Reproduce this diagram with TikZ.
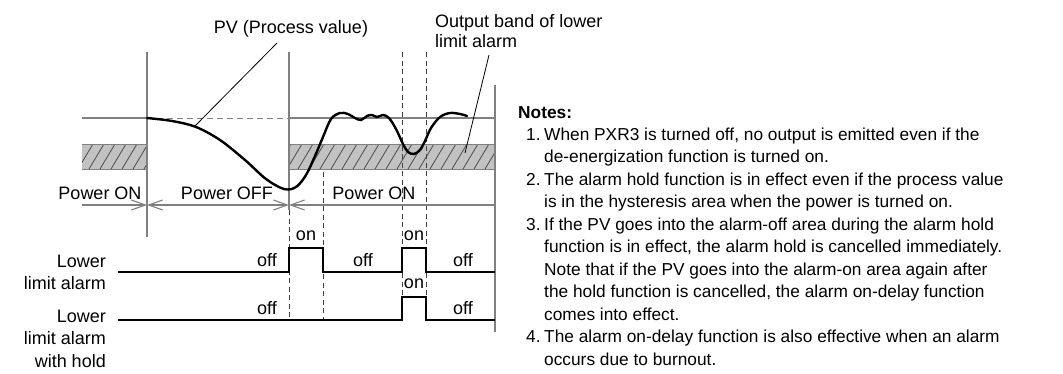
\documentclass[tikz,border=0pt]{standalone}
\usepackage{fontspec}
\setmainfont{Liberation Sans}
\usetikzlibrary{arrows.meta}
\definecolor{axisgray}{gray}{0.5}
\definecolor{bandfill}{gray}{0.76}
\definecolor{hatchc}{gray}{0.3}
\tikzset{
  axis/.style={draw=axisgray, line width=1.1pt},
  dashv/.style={draw=black!75, line width=0.9pt, dash pattern=on 5pt off 3.5pt},
  curve/.style={draw=black, line width=2.4pt, line cap=round},
  sig/.style={draw=black, line width=2.2pt, line join=miter},
  lbl/.style={font=\fontsize{18}{22}\selectfont, inner sep=0pt},
  note/.style={font=\fontsize{17.3}{21}\selectfont, inner sep=0pt, anchor=base west},
  barb/.style={axis, arrows={-Straight Barb[length=14pt,width=10pt]}},
  barbb/.style={axis, arrows={Straight Barb[length=14pt,width=10pt]-Straight Barb[length=14pt,width=10pt]}},
  barbs/.style={axis, arrows={Straight Barb[length=14pt,width=10pt]-}},
}
\begin{document}
\begin{tikzpicture}[x=1pt,y=-1pt]
\useasboundingbox (0,0) rectangle (1063,373);

% hatched bands
\begin{scope}
  \clip (82,144) rectangle (147,169);
  \fill[bandfill] (82,144) rectangle (147,169);
  \foreach \x in {56,67,...,160} \draw[hatchc, line width=0.8pt] (\x,169) -- ++(15,-25);
\end{scope}
\begin{scope}
  \clip (289,144) rectangle (495,169);
  \fill[bandfill] (289,144) rectangle (495,169);
  \foreach \x in {265,276,...,500} \draw[hatchc, line width=0.8pt] (\x,169) -- ++(15,-25);
\end{scope}
\draw[axis, line width=0.8pt] (82,144) -- (147,144) (82,169) -- (147,169);
\draw[axis, line width=0.8pt] (289,144) -- (495,144) (289,169) -- (495,169);

% set line
\draw[axis] (82,118) -- (147,118);
\draw[axisgray, line width=1pt, dash pattern=on 6pt off 4pt] (147,118) -- (289,118);
\draw[axis] (289,118) -- (495,118);

% vertical lines
\draw[axis] (147,52) -- (147,237);
\draw[axis] (289,52) -- (289,210);
\draw[dashv] (289,210) -- (289,320);
\draw[dashv] (323,172) -- (323,320);
\draw[dashv] (402,52) -- (402,320);
\draw[dashv] (426,52) -- (426,320);
\draw[axis] (495,85) -- (495,332);

% power line with barbs
\coordinate (pl) at (82,205);
\coordinate (pa) at (147,205);
\coordinate (pb) at (289,205);
\coordinate (pr) at (495,205);
\draw[barb] (pl) -- (pa);
\draw[barbb] (pa) -- (pb);
\draw[barbs] (pb) -- (pr);

% PV curve
\draw[curve] plot[smooth, tension=0.55] coordinates {
 (147,118) (172,121) (196,127) (220,140) (245,160) (266,179) (284,189) (296,187)
 (306,175) (315,156) (323,137) (331,119) (340,113) (348,114) (355,118) (361,120)
 (367,116) (372,115) (377,117) (383,115) (389,118) (396,129) (403,144) (408,152)
 (414,154) (420,150) (425,141) (431,128) (440,117) (450,113) (460,114) (467,116)};

% signals
\draw[sig] (118,272) -- (289,272) -- (289,248) -- (323,248) -- (323,272)
  -- (402,272) -- (402,248) -- (426,248) -- (426,272) -- (495,272);
\draw[sig] (118,320) -- (402,320) -- (402,297) -- (426,297) -- (426,320) -- (495,320);

% labels
\node[lbl, anchor=base] (pvl) at (291,33) {PV (Process value)};
\coordinate (pvs) at (277,43);
\coordinate (pve) at (195,126);
\draw[black, line width=0.8pt] (pvs) -- (pve);

\node[lbl, anchor=base west] (ob1) at (435,27) {Output band of lower};
\node[lbl, anchor=base west] (ob2) at (435,47) {limit alarm};
\coordinate (obs) at (489,55);
\coordinate (obe) at (465,153);
\draw[black, line width=0.8pt] (obs) -- (obe);

\node[lbl, anchor=base] (pon1) at (100,199) {Power ON};
\node[lbl, anchor=base] (poff) at (227,199) {Power OFF};
\node[lbl, anchor=base] (pon2) at (374,199) {Power ON};

\node[lbl, anchor=base] (on1) at (306,240) {on};
\node[lbl, anchor=base] (on2) at (414,240) {on};
\node[lbl, anchor=base] (on3) at (414,288) {on};
\node[lbl, anchor=base east] (off1) at (277,266) {off};
\node[lbl, anchor=base] (off2) at (363,266) {off};
\node[lbl, anchor=base] (off3) at (463,266) {off};
\node[lbl, anchor=base east] (off4) at (277,314) {off};
\node[lbl, anchor=base] (off5) at (463,314) {off};

\node[lbl, anchor=base east] (la1) at (106,267) {Lower};
\node[lbl, anchor=base east] (la2) at (106,289) {limit alarm};
\node[lbl, anchor=base east] (lb1) at (106,322) {Lower};
\node[lbl, anchor=base east] (lb2) at (106,344) {limit alarm};
\node[lbl, anchor=base east] (lb3) at (106,367) {with hold};

% notes
\node[note, font=\fontsize{17.3}{21}\selectfont\bfseries] (nt) at (518,118) {Notes:};
\node[note] (n1a) at (526,140.5) {1.};
\node[note] (n1b) at (544,140.5) {When PXR3 is turned off, no output is emitted even if the};
\node[note] (n1c) at (544,162.9) {de-energization function is turned on.};
\node[note] (n2a) at (526,185.4) {2.};
\node[note] (n2b) at (544,185.4) {The alarm hold function is in effect even if the process value};
\node[note] (n2c) at (544,207.8) {is in the hysteresis area when the power is turned on.};
\node[note] (n3a) at (526,230.3) {3.};
\node[note] (n3b) at (544,230.3) {If the PV goes into the alarm-off area during the alarm hold};
\node[note] (n3c) at (544,252.7) {function is in effect, the alarm hold is cancelled immediately.};
\node[note] (n3d) at (544,275.2) {Note that if the PV goes into the alarm-on area again after};
\node[note] (n3e) at (544,297.6) {the hold function is cancelled, the alarm on-delay function};
\node[note] (n3f) at (544,320.1) {comes into effect.};
\node[note] (n4a) at (526,342.5) {4.};
\node[note] (n4b) at (544,342.5) {The alarm on-delay function is also effective when an alarm};
\node[note] (n4c) at (544,365) {occurs due to burnout.};
\end{tikzpicture}
\end{document}
